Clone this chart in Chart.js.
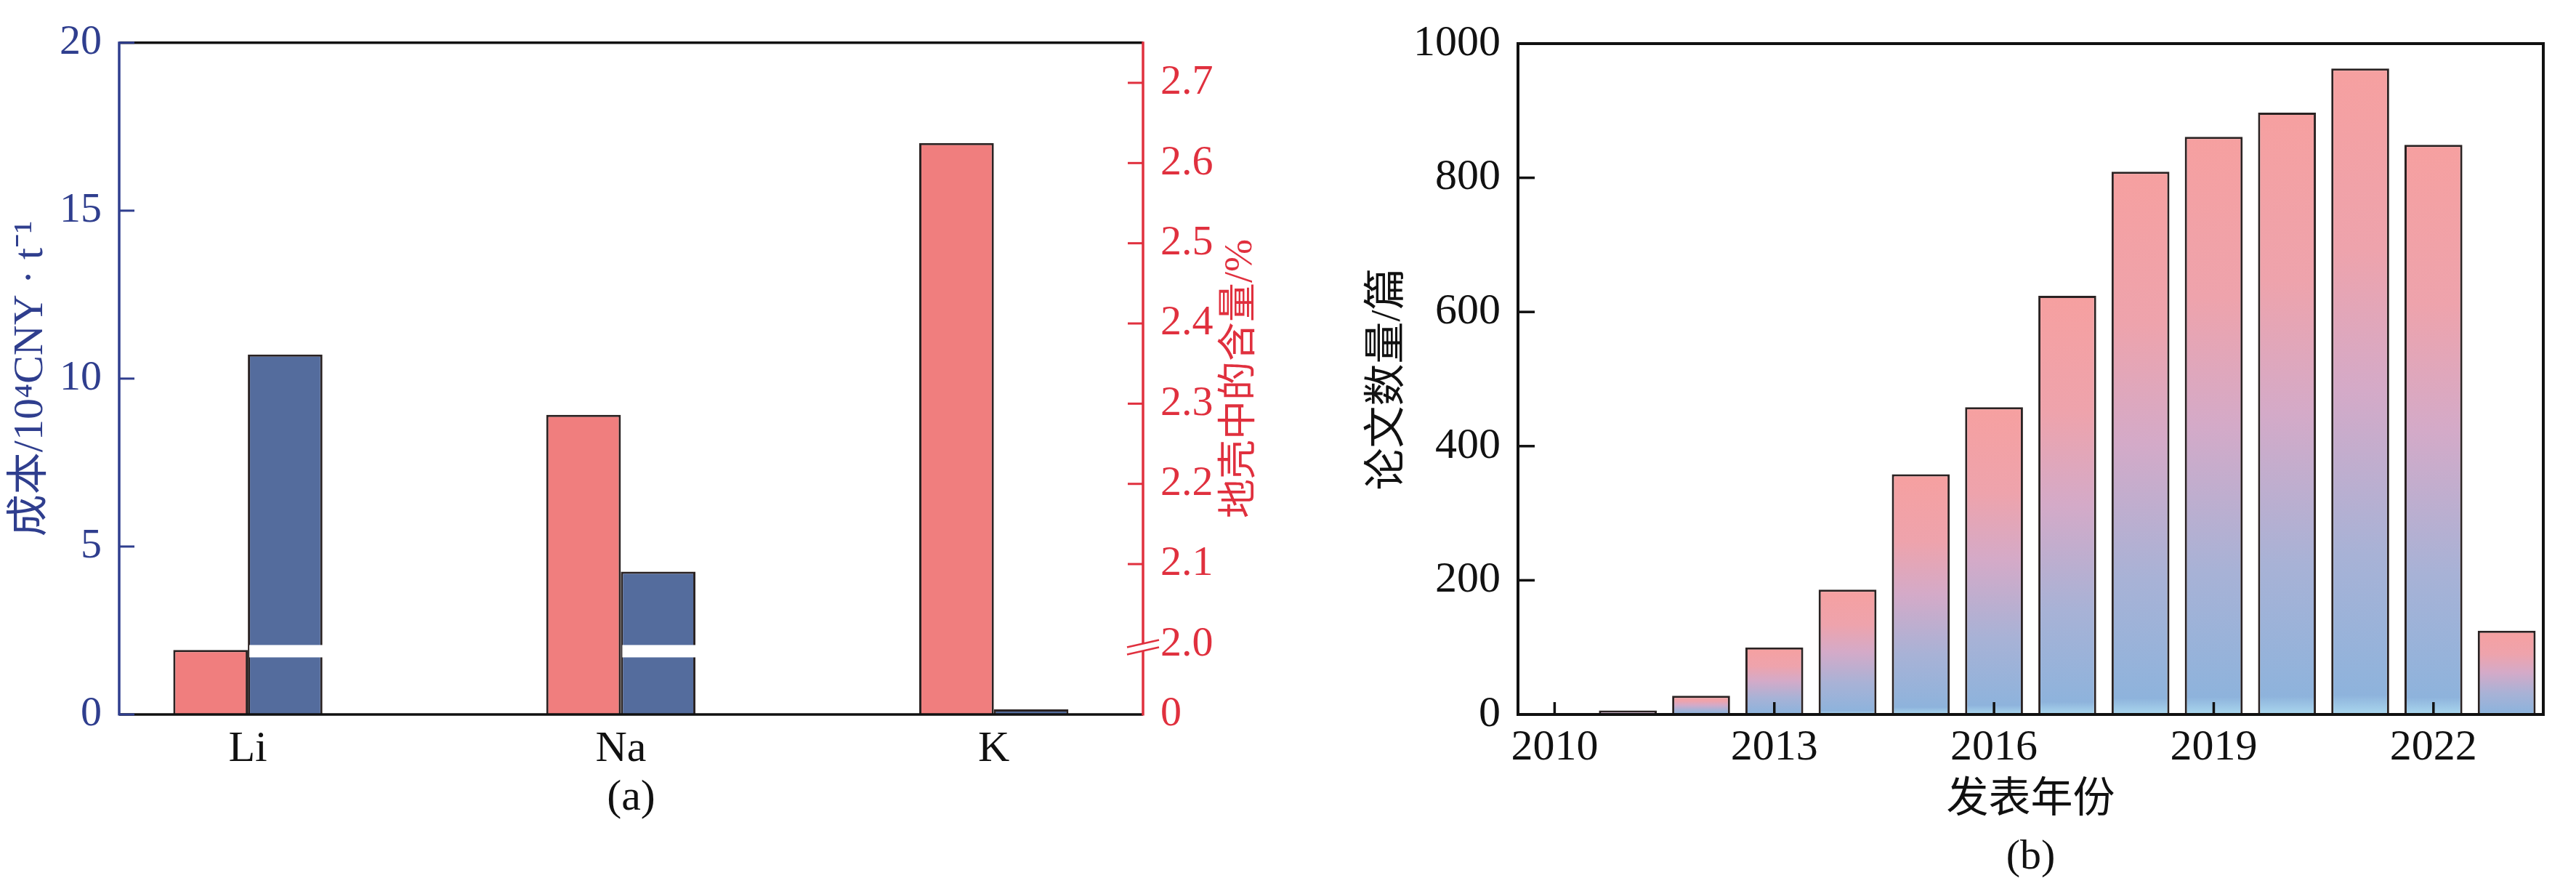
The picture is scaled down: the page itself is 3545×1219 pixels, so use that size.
<!DOCTYPE html>
<html lang="zh">
<head>
<meta charset="UTF-8">
<title>成本与论文数量</title>
<script src="https://cdn.jsdelivr.net/npm/chart.js"></script>
<style>
  body { margin: 0; background: #fff; }
  .wrap { position: relative; width: 3545px; height: 1219px; }
  #costChart { position: absolute; left: 0; top: 0; }
  #paperChart { position: absolute; left: 1800px; top: 0; }
</style>
</head>
<body>
<div class="wrap">
  <canvas id="costChart" width="1800" height="1219"></canvas>
  <canvas id="paperChart" width="1745" height="1219"></canvas>
</div>
<script>
// (a) cost vs crust content
const elements = ["Li", "Na", "K"];
const costWan = [10.72, 4.25, 0.15];          // 成本 /10^4 CNY·t^-1
const crustPos = [1.993, 2.286, 2.625];       // 地壳中的含量, position on the broken axis
const costTicks = [0, 5, 10, 15, 20];
const crustTickValues = [1.9125, 2.0, 2.1, 2.2, 2.3, 2.4, 2.5, 2.6, 2.7];
const crustTickLabels = ["0", "2.0", "2.1", "2.2", "2.3", "2.4", "2.5", "2.6", "2.7"];
const crustBreak = 2.0;

// (b) papers per year
const years = [2011, 2012, 2013, 2014, 2015, 2016, 2017, 2018, 2019, 2020, 2021, 2022, 2023];
const papers = [6, 28, 100, 186, 358, 458, 624, 809, 861, 897, 963, 849, 125];
const yearTicks = [2010, 2013, 2016, 2019, 2022];
const paperTicks = [0, 200, 400, 600, 800, 1000];

const serif = "'Liberation Serif', 'Noto Sans CJK SC', serif";
const navy = "#2f3e8e";
const red = "#e0303e";
const edge = "#2a2222";

Chart.defaults.font.family = serif;
Chart.defaults.animation = false;

// draws frame, inward ticks, axis break and bar gaps for (a)
const costDecor = {
    id: "costDecor",
    afterDatasetsDraw(chart) {
        const ctx = chart.ctx;
        const {left, right, top, bottom} = chart.chartArea;
        const yS = chart.scales.y, y2 = chart.scales.y2;
        const yb = y2.getPixelForValue(crustBreak);

        ctx.save();
        // white gap in the cost bars
        chart.getDatasetMeta(1).data.forEach(bar => {
            if (bar.y < yb) {
                ctx.fillStyle = "#fff";
                ctx.fillRect(bar.x - bar.width / 2 + 2, yb + 1, bar.width + 2, 17);
            }
        });

        ctx.lineWidth = 3.5;
        ctx.strokeStyle = "#111";
        ctx.beginPath();
        ctx.moveTo(left, top); ctx.lineTo(right, top);
        ctx.moveTo(left, bottom); ctx.lineTo(right, bottom);
        ctx.stroke();

        ctx.strokeStyle = navy;
        ctx.beginPath();
        ctx.moveTo(left, top - 1.5); ctx.lineTo(left, bottom + 1.5);
        ctx.stroke();
        ctx.lineWidth = 3;
        costTicks.forEach(v => {
            const y = yS.getPixelForValue(v);
            ctx.beginPath(); ctx.moveTo(left, y); ctx.lineTo(left + 21, y); ctx.stroke();
        });

        ctx.strokeStyle = red;
        ctx.lineWidth = 3.5;
        ctx.beginPath();
        ctx.moveTo(right, top - 1.5); ctx.lineTo(right, bottom + 1.5);
        ctx.stroke();
        ctx.lineWidth = 3;
        crustTickValues.slice(2).forEach(v => {
            const y = y2.getPixelForValue(v);
            ctx.beginPath(); ctx.moveTo(right - 21, y); ctx.lineTo(right, y); ctx.stroke();
        });

        // axis break marks
        ctx.fillStyle = "#fff";
        ctx.beginPath();
        ctx.moveTo(right - 22, yb + 4); ctx.lineTo(right + 22, yb - 6);
        ctx.lineTo(right + 22, yb + 4); ctx.lineTo(right - 22, yb + 14);
        ctx.closePath(); ctx.fill();
        ctx.lineWidth = 2.5;
        ctx.beginPath();
        ctx.moveTo(right - 22, yb + 4); ctx.lineTo(right + 22, yb - 6);
        ctx.moveTo(right - 22, yb + 14); ctx.lineTo(right + 22, yb + 4);
        ctx.stroke();

        // right axis title, reads bottom to top
        ctx.translate(1708, (top + bottom) / 2);
        ctx.rotate(-Math.PI / 2);
        ctx.fillStyle = red;
        ctx.font = "54px " + serif;
        ctx.textAlign = "center";
        ctx.textBaseline = "middle";
        ctx.fillText("地壳中的含量/%", 0, 0);
        ctx.restore();
    }
};

new Chart(document.getElementById("costChart"), {
    type: "bar",
    data: {
        datasets: [{
            label: "地壳中的含量",
            data: elements.map((e, i) => ({x: i + 1, y: crustPos[i]})),
            yAxisID: "y2",
            backgroundColor: "#f07e7e",
            borderColor: edge,
            borderWidth: 3,
            categoryPercentage: 0.4,
            barPercentage: 1
        }, {
            label: "成本",
            data: elements.map((e, i) => ({x: i + 1, y: costWan[i]})),
            yAxisID: "y",
            backgroundColor: "#546c9d",
            borderColor: edge,
            borderWidth: 3,
            categoryPercentage: 0.4,
            barPercentage: 1
        }]
    },
    options: {
        responsive: false,
        layout: { padding: { top: 41 } },
        plugins: { legend: { display: false }, tooltip: { enabled: false } },
        scales: {
            x: {
                type: "linear",
                offset: false,
                min: 0.655,
                max: 3.4,
                afterBuildTicks: s => { s.ticks = elements.map((e, i) => ({value: i + 1})); },
                ticks: {
                    callback: (v, i) => elements[i],
                    color: "#111",
                    font: { size: 60 },
                    padding: 12,
                    autoSkip: false,
                    maxRotation: 0
                },
                grid: { display: false, drawTicks: false },
                border: { display: false },
                title: { display: true, text: "(a)", color: "#111", font: { size: 60 }, padding: { top: 0, bottom: 85 } },
                afterFit: s => { s.height = 236; }
            },
            y: {
                min: 0,
                max: 20,
                afterBuildTicks: s => { s.ticks = costTicks.map(v => ({value: v})); },
                ticks: { color: navy, font: { size: 58 }, padding: 24 },
                grid: { display: false, drawTicks: false },
                border: { display: false },
                title: { display: true, text: "成本/10⁴CNY · t⁻¹", color: navy, font: { size: 58 }, padding: { top: 8, bottom: 0 } },
                afterFit: s => { s.width = 164; }
            },
            y2: {
                position: "right",
                min: crustTickValues[0],
                max: 2.75,
                afterBuildTicks: s => { s.ticks = crustTickValues.map(v => ({value: v})); },
                ticks: { callback: (v, i) => crustTickLabels[i], color: red, font: { size: 58 }, padding: 24 },
                grid: { display: false, drawTicks: false },
                border: { display: false },
                afterFit: s => { s.width = 227; }
            }
        }
    },
    plugins: [costDecor]
});

// (b) gradient fill per bar, pink at the top to blue at the base
function paperFill(c) {
    const chart = c.chart;
    if (!chart.chartArea || !c.parsed) return "#f4a0a0";
    const yS = chart.scales.y;
    const top = yS.getPixelForValue(c.parsed.y);
    const base = yS.getPixelForValue(0);
    if (!(base - top > 1)) return "#f4a0a0";
    const g = chart.ctx.createLinearGradient(0, top, 0, base);
    g.addColorStop(0, "rgb(246,160,160)");
    g.addColorStop(0.28, "rgb(238,163,172)");
    g.addColorStop(0.5, "rgb(212,170,200)");
    g.addColorStop(0.75, "rgb(168,178,214)");
    g.addColorStop(0.97, "rgb(142,179,220)");
    g.addColorStop(1, "rgb(170,215,238)");
    return g;
}

const paperDecor = {
    id: "paperDecor",
    afterDatasetsDraw(chart) {
        const ctx = chart.ctx;
        const {left, right, top, bottom} = chart.chartArea;
        const xS = chart.scales.x, yS = chart.scales.y;
        ctx.save();
        ctx.strokeStyle = "#111";
        ctx.lineWidth = 4;
        ctx.strokeRect(left, top, right - left, bottom - top);
        ctx.lineWidth = 3.5;
        paperTicks.forEach(v => {
            const y = yS.getPixelForValue(v);
            ctx.beginPath(); ctx.moveTo(left, y); ctx.lineTo(left + 23, y); ctx.stroke();
        });
        yearTicks.forEach(v => {
            const x = xS.getPixelForValue(v);
            ctx.beginPath(); ctx.moveTo(x, bottom); ctx.lineTo(x, bottom - 17); ctx.stroke();
        });
        ctx.restore();
    }
};

new Chart(document.getElementById("paperChart"), {
    type: "bar",
    data: {
        datasets: [{
            label: "论文数量",
            data: years.map((yr, i) => ({x: yr, y: papers[i]})),
            backgroundColor: paperFill,
            borderColor: edge,
            borderWidth: 3,
            categoryPercentage: 1,
            barPercentage: 0.79
        }]
    },
    options: {
        responsive: false,
        layout: { padding: { top: 41, right: 45 } },
        plugins: { legend: { display: false }, tooltip: { enabled: false } },
        scales: {
            x: {
                type: "linear",
                offset: false,
                min: 2009.5,
                max: 2023.5,
                afterBuildTicks: s => { s.ticks = yearTicks.map(v => ({value: v})); },
                ticks: { callback: v => String(v), color: "#111", font: { size: 60 }, padding: 10, autoSkip: false, maxRotation: 0 },
                grid: { display: false, drawTicks: false },
                border: { display: false },
                title: {
                    display: true,
                    text: ["发表年份", "(b)"],
                    color: "#111",
                    font: { size: 58, lineHeight: 1.35 },
                    padding: { top: 0, bottom: 0 }
                },
                afterFit: s => { s.height = 236; }
            },
            y: {
                min: 0,
                max: 1000,
                afterBuildTicks: s => { s.ticks = paperTicks.map(v => ({value: v})); },
                ticks: { callback: v => String(v), color: "#111", font: { size: 60 }, padding: 24 },
                grid: { display: false, drawTicks: false },
                border: { display: false },
                title: { display: true, text: "论文数量/篇", color: "#111", font: { size: 58 }, padding: { top: 76, bottom: 0 } },
                afterFit: s => { s.width = 289; }
            }
        }
    },
    plugins: [paperDecor]
});
</script>
</body>
</html>
